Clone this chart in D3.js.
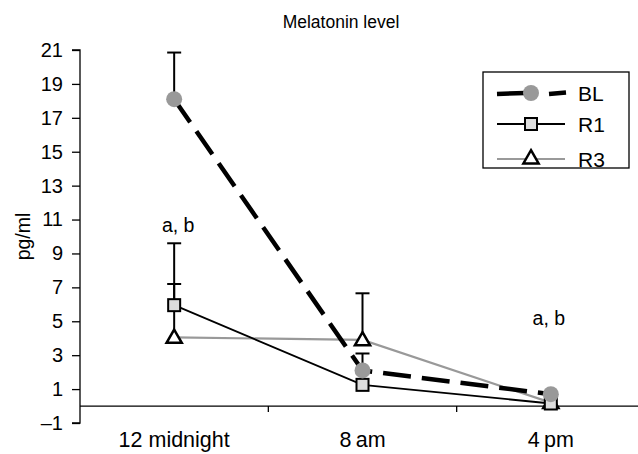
<!DOCTYPE html>
<html><head><meta charset="utf-8">
<script src="https://cdn.jsdelivr.net/npm/d3@7"></script>
<style>body{margin:0;background:#fff}svg{display:block}text{font-family:"Liberation Sans",Arial,sans-serif;fill:#000}</style>
</head><body><svg id="c" width="638" height="454"></svg>
<script>
const categories = ["12 midnight", "8\u2009am", "4\u2009pm"];
const blValues = [18.1, 2.1, 0.7];
const blErr = [20.85, 3.1, null];
const r1Values = [5.95, 1.25, 0.15];
const r1Err = [9.6, null, null];
const r3Values = [4.05, 3.9, 0.2];
const r3Err = [7.2, 6.65, null];
const yTicks = [-1, 1, 3, 5, 7, 9, 11, 13, 15, 17, 19, 21];
const annotations = [{cat: 0, y: 10.25, text: "a, b"}, {cat: 2, y: 4.8, text: "a, b"}];

const svg = d3.select("#c");
const x = d3.scaleBand().domain(categories).range([80, 645]);
const y = d3.scaleLinear().domain([-1, 21]).range([423, 50]);
const cx = c => x(c) + x.bandwidth() / 2;

svg.append("text").attr("x", 341).attr("y", 28).attr("text-anchor", "middle").attr("font-size", 17.5).text("Melatonin level");

// y axis
const ya = svg.append("g").attr("transform", "translate(80,0)")
  .call(d3.axisLeft(y).tickValues(yTicks).tickSize(8).tickPadding(9).tickFormat(d => d < 0 ? "\u2013" + Math.abs(d) : d));
ya.select(".domain").attr("stroke", "#000").attr("stroke-width", 1.3).attr("d", `M-8,${y(-1)}H0V${y(21)}H-8`);
ya.selectAll(".tick line").attr("stroke", "#000").attr("stroke-width", 1.3);
ya.selectAll(".tick text").attr("font-size", 20).attr("font-family", "Liberation Sans, Arial, sans-serif").attr("fill", "#000");

svg.append("text").attr("transform", `translate(30,${y(10)}) rotate(-90)`).attr("text-anchor", "middle").attr("font-size", 19.5).text("pg/ml");

// x axis at 0
const xa = svg.append("g").attr("transform", `translate(0,${y(0)})`)
  .call(d3.axisBottom(x).tickSize(0).tickPadding(26));
xa.select(".domain").attr("stroke", "#000").attr("stroke-width", 1.3).attr("d", "M80,0H638");
xa.selectAll(".tick text").attr("font-size", 21.5).attr("font-family", "Liberation Sans, Arial, sans-serif").attr("fill", "#000");
const bounds = categories.slice(1).map(c => x(c));
svg.selectAll(".xt").data(bounds).join("line").attr("x1", d => d).attr("x2", d => d)
  .attr("y1", y(0)).attr("y2", y(0) + 6).attr("stroke", "#000").attr("stroke-width", 1.3);

const line = d3.line().x((d, i) => cx(categories[i])).y(d => y(d));

// lines
svg.append("path").attr("d", line(r3Values)).attr("fill", "none").attr("stroke", "#999").attr("stroke-width", 2.2);
svg.append("path").attr("d", line(r1Values)).attr("fill", "none").attr("stroke", "#000").attr("stroke-width", 1.8);
svg.append("path").attr("d", line(blValues)).attr("fill", "none").attr("stroke", "#000").attr("stroke-width", 4.5).attr("stroke-dasharray", "28,11");

// error bars
function errBars(vals, errs) {
  vals.forEach((v, i) => {
    const e = errs[i];
    if (e == null) return;
    const px = cx(categories[i]);
    svg.append("line").attr("x1", px).attr("x2", px).attr("y1", y(v)).attr("y2", y(e)).attr("stroke", "#000").attr("stroke-width", 2);
    svg.append("line").attr("x1", px - 7).attr("x2", px + 7).attr("y1", y(e)).attr("y2", y(e)).attr("stroke", "#000").attr("stroke-width", 2);
  });
}
errBars(blValues, blErr);
errBars(r1Values, r1Err);
errBars(r3Values, r3Err);

// markers
const tri = d3.symbol().type(d3.symbolTriangle).size(100);
function drawTri(g, px, py) {
  g.append("path").attr("d", tri()).attr("transform", `translate(${px},${py + 1})`).attr("fill", "#fff").attr("stroke", "#000").attr("stroke-width", 2.5);
}
function drawSq(g, px, py) {
  g.append("rect").attr("x", px - 6).attr("y", py - 6).attr("width", 12).attr("height", 12).attr("fill", "#ddd").attr("stroke", "#000").attr("stroke-width", 2);
}
function drawCirc(g, px, py) {
  g.append("circle").attr("cx", px).attr("cy", py).attr("r", 8).attr("fill", "#999");
}
r3Values.forEach((v, i) => drawTri(svg, cx(categories[i]), y(v)));
r1Values.forEach((v, i) => drawSq(svg, cx(categories[i]), y(v)));
blValues.forEach((v, i) => drawCirc(svg, cx(categories[i]), y(v)));

// annotations
annotations.forEach(a => svg.append("text").attr("x", cx(categories[a.cat]) + (a.cat === 0 ? 4 : -2)).attr("y", y(a.y)).attr("text-anchor", "middle").attr("font-size", 19.5).text(a.text));

// legend
const lg = svg.append("g");
lg.append("rect").attr("x", 483).attr("y", 72).attr("width", 146).attr("height", 96).attr("fill", "#fff").attr("stroke", "#000").attr("stroke-width", 1.3);
const rows = [93, 124, 159];
lg.append("line").attr("x1", 497).attr("x2", 525).attr("y1", rows[0] + 1).attr("y2", rows[0]).attr("stroke", "#000").attr("stroke-width", 4.5);
lg.append("line").attr("x1", 549).attr("x2", 566).attr("y1", rows[0] + 1).attr("y2", rows[0] - 0.5).attr("stroke", "#000").attr("stroke-width", 4.5);
drawCirc(lg, 531, rows[0]);
lg.append("line").attr("x1", 497).attr("x2", 565).attr("y1", rows[1]).attr("y2", rows[1]).attr("stroke", "#000").attr("stroke-width", 1.8);
drawSq(lg, 531, rows[1]);
lg.append("line").attr("x1", 497).attr("x2", 565).attr("y1", rows[2]).attr("y2", rows[2]).attr("stroke", "#999").attr("stroke-width", 2.2);
drawTri(lg, 531, rows[2] - 1);
["BL", "R1", "R3"].forEach((t, i) => lg.append("text").attr("x", 578).attr("y", rows[i] + 7.5).attr("font-size", 21).text(t));
</script></body></html>
